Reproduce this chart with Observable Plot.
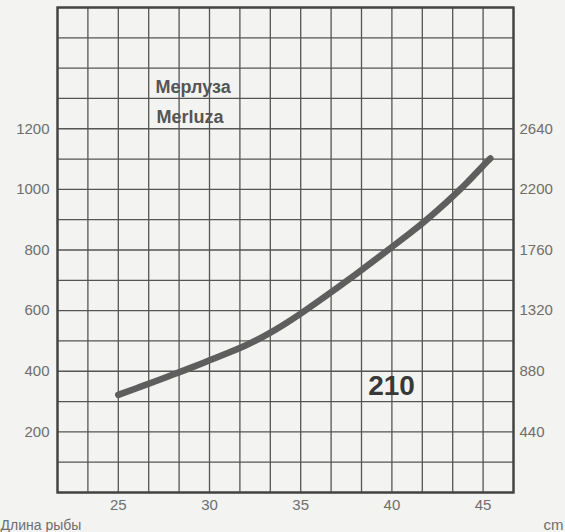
<!DOCTYPE html>
<html><head><meta charset="utf-8">
<script src="https://cdn.jsdelivr.net/npm/d3@7"></script>
<script src="https://cdn.jsdelivr.net/npm/@observablehq/plot@0.6"></script>
<style>html,body{margin:0;padding:0;background:#f3f3f1;} svg{display:block}</style>
</head><body><div id="chart"></div>
<script>
// Fish length (cm) and weight (g)
const lengthCm = [25, 26, 27, 28, 29, 30, 31, 32, 33, 34, 35, 36, 37, 38, 39, 40, 41, 42, 43, 44, 45, 45.4];
const weightG  = [322, 344, 366, 389, 412, 436, 460, 486, 516, 551, 590, 632, 675, 719, 764, 810, 856, 905, 958, 1015, 1078, 1102];
const leftTicks = [200, 400, 600, 800, 1000, 1200];
const rightTickLabels = ["440", "880", "1320", "1760", "2200", "2640"];
const xTicks = [25, 30, 35, 40, 45];
const xGrid = d3.range(16).map(i => 65 / 3 + i * 5 / 3);
const yGrid = d3.range(0, 1601, 100);
const speciesLabels = ["Мерлуза", "Merluza"];
const chartNumber = "210";
const xLabel = "Длина рыбы";
const unitLabel = "cm";

const data = lengthCm.map((x, i) => ({x, y: weightG[i]}));
const font = "'Liberation Sans', Arial, Helvetica, sans-serif";

const plot = Plot.plot({
  width: 565, height: 532,
  marginLeft: 57, marginRight: 52, marginTop: 7, marginBottom: 40,
  style: {background: "transparent", fontFamily: font},
  x: {domain: [65 / 3, 140 / 3]},
  y: {domain: [0, 1600]},
  marks: [
    Plot.ruleX(xGrid, {stroke: "#555", strokeWidth: 1.3}),
    Plot.ruleY(yGrid, {stroke: "#555", strokeWidth: 1.3}),
    Plot.frame({stroke: "#444", strokeWidth: 2.4}),
    Plot.axisY(leftTicks, {anchor: "left", tickSize: 0, tickPadding: 8, fontSize: 15, fill: "#6e6e6e", label: null,
      tickFormat: d => String(d)}),
    Plot.axisY(leftTicks, {anchor: "right", tickSize: 0, tickPadding: 6, fontSize: 15, fill: "#6e6e6e", label: null,
      tickFormat: d => rightTickLabels[leftTicks.indexOf(d)]}),
    Plot.axisX(xTicks, {anchor: "bottom", tickSize: 0, tickPadding: 7, fontSize: 15, fill: "#6e6e6e", label: null,
      tickFormat: d => String(d)}),
    Plot.line(data, {x: "x", y: "y", curve: "natural", stroke: "#5e5e5e", strokeWidth: 6.5}),
    Plot.text([speciesLabels[0]], {frameAnchor: "top-left", dx: 98, dy: 80, textAnchor: "start", lineAnchor: "middle",
      fontSize: 18, fontWeight: "bold", fill: "#555", letterSpacing: 0.9}),
    Plot.text([speciesLabels[1]], {frameAnchor: "top-left", dx: 99, dy: 109.5, textAnchor: "start", lineAnchor: "middle",
      fontSize: 18, fontWeight: "bold", fill: "#555", letterSpacing: 0.9}),
    Plot.text([chartNumber], {frameAnchor: "top-left", dx: 334, dy: 379, textAnchor: "middle", lineAnchor: "middle",
      fontSize: 28, fontWeight: "bold", fill: "#383838"}),
    Plot.text([xLabel], {frameAnchor: "bottom-left", dx: -57, dy: 33, textAnchor: "start", lineAnchor: "middle",
      fontSize: 14, fill: "#6e6e6e"}),
    Plot.text([unitLabel], {frameAnchor: "bottom-right", dx: 30, dy: 33, textAnchor: "start", lineAnchor: "middle",
      fontSize: 15, fill: "#6e6e6e"})
  ]
});
document.getElementById("chart").appendChild(plot);
</script>
</body></html>
